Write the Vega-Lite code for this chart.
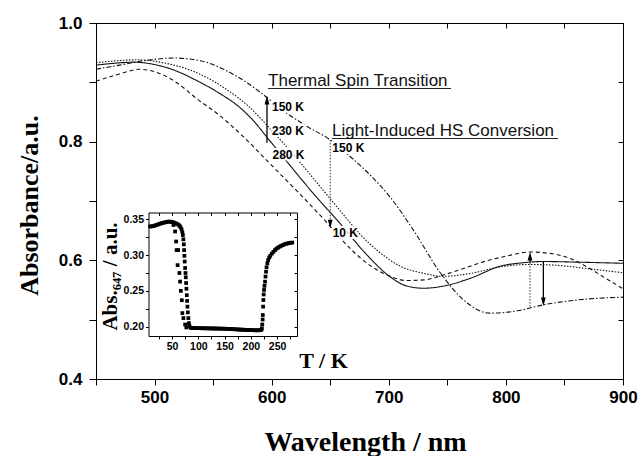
{
  "$schema": "https://vega.github.io/schema/vega-lite/v6.json",
  "width": 527,
  "height": 356,
  "autosize": {"type": "none"},
  "padding": {"left": 96, "top": 23, "right": 16, "bottom": 77},
  "config": {
    "view": {"stroke": "black", "strokeWidth": 1},
    "axis": {"domainColor": "black", "tickColor": "black", "grid": false, "labelColor": "black", "titleColor": "black", "domainWidth": 1, "tickWidth": 1, "labelFlush": false, "labelOverlap": false}
  },
  "datasets": {
    "spectra": [
      {"series": "280 K", "wl": 450, "abs": 0.929}, {"series": "280 K", "wl": 465, "abs": 0.932}, {"series": "280 K", "wl": 482, "abs": 0.934}, {"series": "280 K", "wl": 500, "abs": 0.930}, {"series": "280 K", "wl": 520, "abs": 0.918}, {"series": "280 K", "wl": 535, "abs": 0.904}, {"series": "280 K", "wl": 555, "abs": 0.882}, {"series": "280 K", "wl": 572, "abs": 0.859}, {"series": "280 K", "wl": 585, "abs": 0.834}, {"series": "280 K", "wl": 597, "abs": 0.805}, {"series": "280 K", "wl": 614, "abs": 0.764}, {"series": "280 K", "wl": 635, "abs": 0.714}, {"series": "280 K", "wl": 658, "abs": 0.663}, {"series": "280 K", "wl": 680, "abs": 0.612}, {"series": "280 K", "wl": 700, "abs": 0.574}, {"series": "280 K", "wl": 715, "abs": 0.557}, {"series": "280 K", "wl": 730, "abs": 0.553}, {"series": "280 K", "wl": 750, "abs": 0.558}, {"series": "280 K", "wl": 770, "abs": 0.570}, {"series": "280 K", "wl": 795, "abs": 0.590}, {"series": "280 K", "wl": 815, "abs": 0.596}, {"series": "280 K", "wl": 832, "abs": 0.598}, {"series": "280 K", "wl": 860, "abs": 0.597}, {"series": "280 K", "wl": 900, "abs": 0.595},
      {"series": "230 K", "wl": 450, "abs": 0.933}, {"series": "230 K", "wl": 465, "abs": 0.936}, {"series": "230 K", "wl": 485, "abs": 0.938}, {"series": "230 K", "wl": 510, "abs": 0.932}, {"series": "230 K", "wl": 535, "abs": 0.917}, {"series": "230 K", "wl": 560, "abs": 0.890}, {"series": "230 K", "wl": 580, "abs": 0.860}, {"series": "230 K", "wl": 600, "abs": 0.819}, {"series": "230 K", "wl": 620, "abs": 0.775}, {"series": "230 K", "wl": 639, "abs": 0.730}, {"series": "230 K", "wl": 660, "abs": 0.680}, {"series": "230 K", "wl": 675, "abs": 0.645}, {"series": "230 K", "wl": 690, "abs": 0.617}, {"series": "230 K", "wl": 710, "abs": 0.590}, {"series": "230 K", "wl": 730, "abs": 0.578}, {"series": "230 K", "wl": 746, "abs": 0.573}, {"series": "230 K", "wl": 770, "abs": 0.578}, {"series": "230 K", "wl": 795, "abs": 0.589}, {"series": "230 K", "wl": 820, "abs": 0.593}, {"series": "230 K", "wl": 840, "abs": 0.592}, {"series": "230 K", "wl": 870, "abs": 0.586}, {"series": "230 K", "wl": 900, "abs": 0.579},
      {"series": "150 K", "wl": 450, "abs": 0.922}, {"series": "150 K", "wl": 470, "abs": 0.929}, {"series": "150 K", "wl": 490, "abs": 0.936}, {"series": "150 K", "wl": 516, "abs": 0.941}, {"series": "150 K", "wl": 540, "abs": 0.936}, {"series": "150 K", "wl": 560, "abs": 0.921}, {"series": "150 K", "wl": 580, "abs": 0.898}, {"series": "150 K", "wl": 593, "abs": 0.879}, {"series": "150 K", "wl": 613, "abs": 0.848}, {"series": "150 K", "wl": 630, "abs": 0.826}, {"series": "150 K", "wl": 650, "abs": 0.803}, {"series": "150 K", "wl": 667, "abs": 0.775}, {"series": "150 K", "wl": 685, "abs": 0.742}, {"series": "150 K", "wl": 701, "abs": 0.707}, {"series": "150 K", "wl": 721, "abs": 0.651}, {"series": "150 K", "wl": 744, "abs": 0.579}, {"series": "150 K", "wl": 767, "abs": 0.528}, {"series": "150 K", "wl": 786, "abs": 0.511}, {"series": "150 K", "wl": 810, "abs": 0.515}, {"series": "150 K", "wl": 832, "abs": 0.525}, {"series": "150 K", "wl": 860, "abs": 0.533}, {"series": "150 K", "wl": 900, "abs": 0.538},
      {"series": "10 K", "wl": 450, "abs": 0.902}, {"series": "10 K", "wl": 470, "abs": 0.914}, {"series": "10 K", "wl": 487, "abs": 0.922}, {"series": "10 K", "wl": 500, "abs": 0.918}, {"series": "10 K", "wl": 520, "abs": 0.898}, {"series": "10 K", "wl": 535, "abs": 0.874}, {"series": "10 K", "wl": 555, "abs": 0.845}, {"series": "10 K", "wl": 576, "abs": 0.808}, {"series": "10 K", "wl": 600, "abs": 0.760}, {"series": "10 K", "wl": 625, "abs": 0.710}, {"series": "10 K", "wl": 647, "abs": 0.664}, {"series": "10 K", "wl": 667, "abs": 0.620}, {"series": "10 K", "wl": 685, "abs": 0.590}, {"series": "10 K", "wl": 700, "abs": 0.574}, {"series": "10 K", "wl": 715, "abs": 0.566}, {"series": "10 K", "wl": 730, "abs": 0.567}, {"series": "10 K", "wl": 746, "abs": 0.575}, {"series": "10 K", "wl": 765, "abs": 0.587}, {"series": "10 K", "wl": 780, "abs": 0.597}, {"series": "10 K", "wl": 800, "abs": 0.607}, {"series": "10 K", "wl": 820, "abs": 0.614}, {"series": "10 K", "wl": 840, "abs": 0.611}, {"series": "10 K", "wl": 855, "abs": 0.603}, {"series": "10 K", "wl": 870, "abs": 0.588}, {"series": "10 K", "wl": 885, "abs": 0.570}, {"series": "10 K", "wl": 900, "abs": 0.552}
    ],
    "shafts": [
      {"wl": 596, "abs": 0.798, "abs2": 0.868, "kind": "solid"},
      {"wl": 832, "abs": 0.598, "abs2": 0.533, "kind": "solid"},
      {"wl": 820.6, "abs": 0.597, "abs2": 0.606, "kind": "solid"},
      {"wl": 650, "abs": 0.803, "abs2": 0.665, "kind": "dotted"},
      {"wl": 820.6, "abs": 0.522, "abs2": 0.598, "kind": "dotted"}
    ],
    "heads": [
      {"wl": 596, "abs": 0.870, "dir": "up"},
      {"wl": 820.6, "abs": 0.607, "dir": "up"},
      {"wl": 650, "abs": 0.661, "dir": "down"},
      {"wl": 832, "abs": 0.530, "dir": "down"}
    ],
    "titles": [
      {"wl": 596.9, "abs": 0.8938, "wl2": 753.1, "uabs": 0.8896, "text": "Thermal Spin Transition"},
      {"wl": 651.5, "abs": 0.8095, "wl2": 844.5, "uabs": 0.8053, "text": "Light-Induced HS Conversion"}
    ],
    "templabels": [
      {"wl": 600.3, "abs": 0.8517, "text": "150 K"},
      {"wl": 600.3, "abs": 0.8112, "text": "230 K"},
      {"wl": 600.7, "abs": 0.7716, "text": "280 K"},
      {"wl": 651.8, "abs": 0.7826, "text": "150 K"},
      {"wl": 652.1, "abs": 0.6393, "text": "10 K"}
    ],
    "inset": [
      {"T": 8, "A": 0.3400}, {"T": 11, "A": 0.3402}, {"T": 14, "A": 0.3405}, {"T": 17, "A": 0.3412}, {"T": 20, "A": 0.3420}, {"T": 23, "A": 0.3428}, {"T": 26, "A": 0.3436}, {"T": 29, "A": 0.3443}, {"T": 32, "A": 0.3449}, {"T": 35, "A": 0.3455}, {"T": 38, "A": 0.3460}, {"T": 41, "A": 0.3465}, {"T": 44, "A": 0.3468}, {"T": 47, "A": 0.3466}, {"T": 50, "A": 0.3462}, {"T": 53, "A": 0.3455}, {"T": 56, "A": 0.3447}, {"T": 59, "A": 0.3437}, {"T": 62, "A": 0.3425}, {"T": 64, "A": 0.3410}, {"T": 66, "A": 0.3390}, {"T": 68, "A": 0.3360}, {"T": 69.5, "A": 0.3320}, {"T": 70.5, "A": 0.3280}, {"T": 71.5, "A": 0.3220}, {"T": 72.3, "A": 0.3150}, {"T": 72.9, "A": 0.3070}, {"T": 73.4, "A": 0.2990}, {"T": 74.0, "A": 0.2910}, {"T": 74.8, "A": 0.2820}, {"T": 75.5, "A": 0.2750}, {"T": 76.1, "A": 0.2690}, {"T": 76.7, "A": 0.2610}, {"T": 77.3, "A": 0.2530}, {"T": 78.0, "A": 0.2440}, {"T": 78.6, "A": 0.2360}, {"T": 79.2, "A": 0.2280}, {"T": 80.0, "A": 0.2200}, {"T": 81.0, "A": 0.2120}, {"T": 82.0, "A": 0.2050}, {"T": 83.0, "A": 0.2010},
      {"T": 52.5, "A": 0.3420}, {"T": 55.7, "A": 0.3330}, {"T": 57.6, "A": 0.3190}, {"T": 58.5, "A": 0.3070}, {"T": 61.5, "A": 0.3070}, {"T": 60.5, "A": 0.2860}, {"T": 63.9, "A": 0.2750}, {"T": 65.2, "A": 0.2630}, {"T": 66.6, "A": 0.2500}, {"T": 68.5, "A": 0.2370}, {"T": 69.5, "A": 0.2190}, {"T": 71.5, "A": 0.2120}, {"T": 74.8, "A": 0.2030}, {"T": 77, "A": 0.1990},
      {"T": 85, "A": 0.1985}, {"T": 88, "A": 0.1983}, {"T": 91, "A": 0.1982}, {"T": 94, "A": 0.1981}, {"T": 97, "A": 0.1980}, {"T": 100, "A": 0.1980}, {"T": 103, "A": 0.1979}, {"T": 106, "A": 0.1979}, {"T": 109, "A": 0.1978}, {"T": 112, "A": 0.1978}, {"T": 115, "A": 0.1977}, {"T": 118, "A": 0.1977}, {"T": 121, "A": 0.1976}, {"T": 124, "A": 0.1976}, {"T": 127, "A": 0.1975}, {"T": 130, "A": 0.1975}, {"T": 133, "A": 0.1974}, {"T": 136, "A": 0.1974}, {"T": 139, "A": 0.1973}, {"T": 142, "A": 0.1973}, {"T": 145, "A": 0.1972}, {"T": 148, "A": 0.1972}, {"T": 151, "A": 0.1971}, {"T": 154, "A": 0.1970}, {"T": 157, "A": 0.1969}, {"T": 160, "A": 0.1968}, {"T": 163, "A": 0.1967}, {"T": 166, "A": 0.1966}, {"T": 169, "A": 0.1964}, {"T": 172, "A": 0.1963}, {"T": 175, "A": 0.1962}, {"T": 178, "A": 0.1960}, {"T": 181, "A": 0.1959}, {"T": 184, "A": 0.1958}, {"T": 187, "A": 0.1957}, {"T": 190, "A": 0.1956}, {"T": 193, "A": 0.1955}, {"T": 196, "A": 0.1954}, {"T": 199, "A": 0.1953}, {"T": 202, "A": 0.1952}, {"T": 205, "A": 0.1951}, {"T": 208, "A": 0.1950}, {"T": 211, "A": 0.1950}, {"T": 214, "A": 0.1950}, {"T": 217, "A": 0.1951}, {"T": 220, "A": 0.1955},
      {"T": 221, "A": 0.1975}, {"T": 221.8, "A": 0.2030}, {"T": 222.5, "A": 0.2100}, {"T": 222.8, "A": 0.2163}, {"T": 223.4, "A": 0.2280}, {"T": 223.9, "A": 0.2373}, {"T": 224.5, "A": 0.2450}, {"T": 225.2, "A": 0.2513}, {"T": 226.0, "A": 0.2570}, {"T": 227.1, "A": 0.2629}, {"T": 228.0, "A": 0.2700}, {"T": 229.0, "A": 0.2768}, {"T": 230.0, "A": 0.2830}, {"T": 231.5, "A": 0.2885}, {"T": 233, "A": 0.2930}, {"T": 235, "A": 0.2965}, {"T": 237, "A": 0.2990}, {"T": 240, "A": 0.3020}, {"T": 243, "A": 0.3045}, {"T": 246, "A": 0.3070}, {"T": 249, "A": 0.3090}, {"T": 252, "A": 0.3105}, {"T": 255, "A": 0.3118}, {"T": 258, "A": 0.3130}, {"T": 261, "A": 0.3140}, {"T": 264, "A": 0.3150}, {"T": 267, "A": 0.3158}, {"T": 270, "A": 0.3163}, {"T": 273, "A": 0.3168}, {"T": 276, "A": 0.3172}, {"T": 279, "A": 0.3175}
    ]
  },
  "layer": [
    {
      "layer": [
        {
          "data": {"name": "spectra"},
          "mark": {"type": "line", "interpolate": "monotone", "color": "#111111", "strokeWidth": 1.1},
          "encoding": {
            "x": {"field": "wl", "type": "quantitative", "scale": {"domain": [450, 900], "nice": false, "zero": false},
              "axis": {"orient": "bottom", "values": [450, 500, 550, 600, 650, 700, 750, 800, 850, 900], "labelExpr": "datum.value % 100 === 0 ? datum.label : ''", "format": "d", "tickSize": 6, "labelPadding": 4, "labelFont": "Liberation Sans", "labelFontWeight": "bold", "labelFontSize": 17,
                "title": "Wavelength / nm", "titleFont": "Liberation Serif", "titleFontSize": 28, "titleFontWeight": "bold", "titleX": 269, "titleY": 71, "titleBaseline": "alphabetic", "titleAlign": "center"}},
            "y": {"field": "abs", "type": "quantitative", "scale": {"domain": [0.4, 1.0], "nice": false, "zero": false},
              "axis": {"orient": "left", "values": [0.4, 0.5, 0.6, 0.7, 0.8, 0.9, 1.0], "labelExpr": "round(datum.value*10) % 2 === 0 ? format(datum.value, '.1f') : ''", "tickSize": 7, "labelPadding": 7, "labelFont": "Liberation Sans", "labelFontWeight": "bold", "labelFontSize": 17,
                "title": "Absorbance/a.u.", "titleFont": "Liberation Serif", "titleFontSize": 26, "titleFontWeight": "bold", "titleX": -59, "titleY": 182, "titleAngle": -90, "titleBaseline": "alphabetic", "titleAlign": "center"}},
            "detail": {"field": "series"},
            "strokeDash": {"field": "series", "type": "nominal", "scale": {"domain": ["280 K", "230 K", "150 K", "10 K"], "range": [[1, 0], [1.5, 1.5], [5, 2, 1.5, 2], [4, 3]]}, "legend": null}
          }
        },
        {
          "data": {"name": "shafts"},
          "transform": [{"filter": "datum.kind === 'solid'"}],
          "mark": {"type": "rule", "color": "black", "strokeWidth": 1.3},
          "encoding": {"x": {"field": "wl", "type": "quantitative"}, "y": {"field": "abs", "type": "quantitative"}, "y2": {"field": "abs2"}}
        },
        {
          "data": {"name": "shafts"},
          "transform": [{"filter": "datum.kind === 'dotted'"}],
          "mark": {"type": "rule", "color": "#333333", "strokeWidth": 1, "strokeDash": [1.5, 1.5]},
          "encoding": {"x": {"field": "wl", "type": "quantitative"}, "y": {"field": "abs", "type": "quantitative"}, "y2": {"field": "abs2"}}
        },
        {
          "data": {"name": "heads"},
          "transform": [{"filter": "datum.dir === 'up'"}],
          "mark": {"type": "point", "shape": "M0,-1L0.55,1L-0.55,1Z", "filled": true, "color": "black", "opacity": 1, "size": 75},
          "encoding": {"x": {"field": "wl", "type": "quantitative"}, "y": {"field": "abs", "type": "quantitative"}}
        },
        {
          "data": {"name": "heads"},
          "transform": [{"filter": "datum.dir === 'down'"}],
          "mark": {"type": "point", "shape": "M0,1L0.55,-1L-0.55,-1Z", "filled": true, "color": "black", "opacity": 1, "size": 75},
          "encoding": {"x": {"field": "wl", "type": "quantitative"}, "y": {"field": "abs", "type": "quantitative"}}
        },
        {
          "data": {"name": "titles"},
          "mark": {"type": "rule", "color": "#222222", "strokeWidth": 1},
          "encoding": {"x": {"field": "wl", "type": "quantitative"}, "x2": {"field": "wl2"}, "y": {"field": "uabs", "type": "quantitative"}}
        },
        {
          "data": {"name": "titles"},
          "mark": {"type": "text", "font": "Liberation Sans", "fontSize": 17, "align": "left", "baseline": "alphabetic", "color": "#111111"},
          "encoding": {"x": {"field": "wl", "type": "quantitative"}, "y": {"field": "abs", "type": "quantitative"}, "text": {"field": "text"}}
        },
        {
          "data": {"name": "templabels"},
          "mark": {"type": "text", "font": "Liberation Sans", "fontSize": 12, "fontWeight": "bold", "align": "left", "baseline": "alphabetic", "color": "white", "stroke": "white", "strokeWidth": 4, "strokeJoin": "round"},
          "encoding": {"x": {"field": "wl", "type": "quantitative"}, "y": {"field": "abs", "type": "quantitative"}, "text": {"field": "text"}}
        },
        {
          "data": {"name": "templabels"},
          "mark": {"type": "text", "font": "Liberation Sans", "fontSize": 12, "fontWeight": "bold", "align": "left", "baseline": "alphabetic", "color": "black"},
          "encoding": {"x": {"field": "wl", "type": "quantitative"}, "y": {"field": "abs", "type": "quantitative"}, "text": {"field": "text"}}
        }
      ]
    },
    {
      "data": {"name": "spectra"},
      "mark": {"type": "point", "opacity": 0},
      "encoding": {
        "x": {"field": "wl", "type": "quantitative", "scale": {"domain": [450, 900], "nice": false, "zero": false},
          "axis": {"orient": "top", "values": [450, 500, 550, 600, 650, 700, 750, 800, 850, 900], "labels": false, "tickSize": -5, "title": null}},
        "y": {"field": "abs", "type": "quantitative", "scale": {"domain": [0.4, 1.0], "nice": false, "zero": false},
          "axis": {"orient": "right", "values": [0.4, 0.5, 0.6, 0.7, 0.8, 0.9, 1.0], "labels": false, "tickSize": -5, "title": null}}
      }
    },
    {
      "data": {"name": "inset"},
      "mark": {"type": "point", "shape": "square", "filled": true, "size": 14, "color": "black", "opacity": 1},
      "encoding": {
        "x": {"field": "T", "type": "quantitative", "scale": {"domain": [5, 288], "range": [52.5, 201], "nice": false, "zero": false},
          "axis": {"orient": "bottom", "offset": -43, "values": [25, 50, 75, 100, 125, 150, 175, 200, 225, 250, 275], "labelExpr": "datum.value % 50 === 0 ? datum.label : ''", "tickSize": 3, "labelPadding": 2, "labelFont": "Liberation Sans", "labelFontWeight": "bold", "labelFontSize": 10.5,
            "title": "T / K", "titleFont": "Liberation Serif", "titleFontSize": 22, "titleFontWeight": "bold", "titleX": 227, "titleY": 31, "titleBaseline": "alphabetic", "titleAlign": "center"}},
        "y": {"field": "A", "type": "quantitative", "scale": {"domain": [0.187, 0.3595], "range": [313, 189.5], "nice": false, "zero": false},
          "axis": {"orient": "left", "offset": -52.5, "values": [0.2, 0.225, 0.25, 0.275, 0.3, 0.325, 0.35], "labelExpr": "round(datum.value*1000) % 50 === 0 ? format(datum.value, '.2f') : ''", "tickSize": 3, "labelPadding": 2, "labelFont": "Liberation Sans", "labelFontWeight": "bold", "labelFontSize": 10.5,
            "title": "Abs.₆₄₇ / a.u.", "titleFont": "Liberation Serif", "titleFontSize": 21, "titleFontWeight": "bold", "titleX": -32.5, "titleY": 253, "titleAngle": -90, "titleBaseline": "alphabetic", "titleAlign": "center"}}
      }
    },
    {
      "data": {"name": "inset"},
      "mark": {"type": "point", "opacity": 0},
      "encoding": {
        "x": {"field": "T", "type": "quantitative", "scale": {"domain": [5, 288], "range": [52.5, 201], "nice": false, "zero": false},
          "axis": {"orient": "top", "offset": -189.5, "values": [25, 50, 75, 100, 125, 150, 175, 200, 225, 250, 275], "labels": false, "tickSize": -3, "title": null}},
        "y": {"field": "A", "type": "quantitative", "scale": {"domain": [0.187, 0.3595], "range": [313, 189.5], "nice": false, "zero": false},
          "axis": {"orient": "right", "offset": -326, "values": [0.2, 0.225, 0.25, 0.275, 0.3, 0.325, 0.35], "labels": false, "tickSize": -3, "title": null}}
      }
    }
  ],
  "resolve": {"scale": {"x": "independent", "y": "independent"}, "axis": {"x": "independent", "y": "independent"}}
}
